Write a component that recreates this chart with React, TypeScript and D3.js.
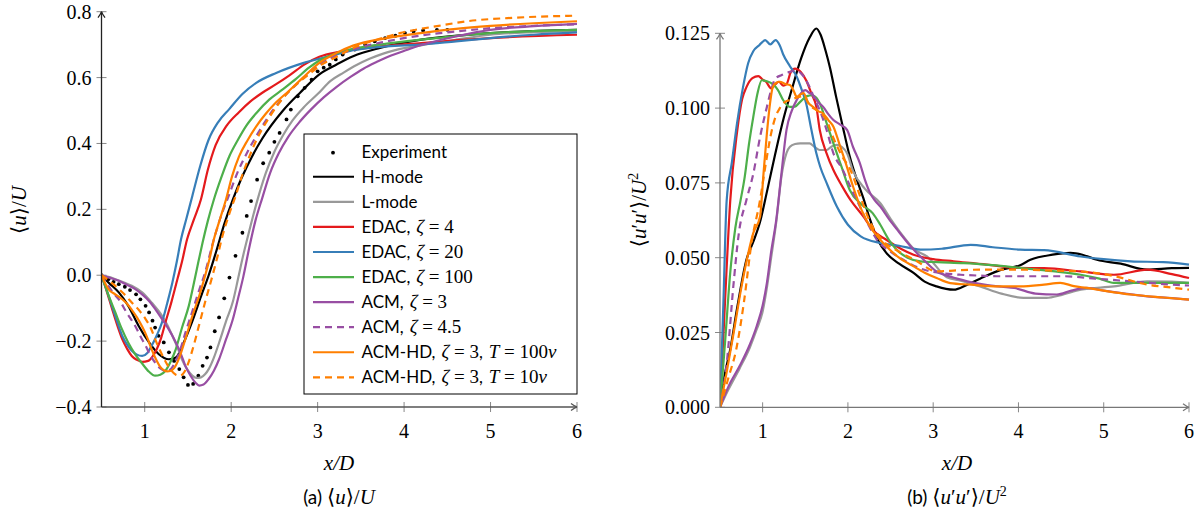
import React from 'react';
import * as d3 from 'd3';

type P = [number, number];

const xTicks = [1, 2, 3, 4, 5, 6];
const uTicks = [-0.4, -0.2, 0, 0.2, 0.4, 0.6, 0.8];
const rTicks = [0, 0.025, 0.05, 0.075, 0.1, 0.125];

// ---------- (a) <u>/U ----------
const experimentU: P[] = [[0.5,0],[0.58,-0.012],[0.64,-0.02],[0.70,-0.027],[0.77,-0.035],[0.83,-0.045],[0.90,-0.058],[0.95,-0.073],[1.01,-0.093],[1.05,-0.113],[1.09,-0.138],[1.12,-0.159],[1.16,-0.184],[1.22,-0.204],[1.28,-0.234],[1.34,-0.26],[1.40,-0.285],[1.45,-0.31],[1.50,-0.333],[1.56,-0.33],[1.62,-0.305],[1.67,-0.275],[1.72,-0.25],[1.76,-0.219],[1.81,-0.17],[1.86,-0.128],[1.92,-0.07],[1.98,-0.007],[2.05,0.059],[2.13,0.129],[2.18,0.18],[2.23,0.225],[2.30,0.29],[2.37,0.34],[2.44,0.372],[2.50,0.405],[2.56,0.432],[2.64,0.473],[2.69,0.503],[2.77,0.543],[2.85,0.569],[2.93,0.594],[3.00,0.619],[3.07,0.63],[3.14,0.639],[3.21,0.655],[3.29,0.67],[3.43,0.685],[3.55,0.70],[3.66,0.71],[3.78,0.72],[3.90,0.727],[4.01,0.735],[4.11,0.74],[4.22,0.743],[4.38,0.745],[4.50,0.745]];
const hModeU: P[] = [[0.5,0],[0.58,-0.022],[0.70,-0.052],[0.81,-0.093],[0.93,-0.154],[1.05,-0.204],[1.16,-0.239],[1.28,-0.255],[1.36,-0.25],[1.45,-0.205],[1.55,-0.14],[1.65,-0.065],[1.74,0.0],[1.83,0.075],[1.92,0.155],[2.02,0.23],[2.12,0.295],[2.24,0.36],[2.36,0.415],[2.60,0.50],[2.80,0.555],[3.02,0.61],[3.22,0.64],[3.41,0.665],[3.72,0.69],[4.2,0.715],[5,0.735],[6,0.745]];
const lModeU: P[] = [[0.5,0],[0.58,-0.005],[0.66,-0.012],[0.76,-0.022],[0.85,-0.032],[0.97,-0.052],[1.08,-0.083],[1.20,-0.123],[1.26,-0.15],[1.32,-0.184],[1.38,-0.22],[1.43,-0.255],[1.49,-0.285],[1.55,-0.305],[1.60,-0.312],[1.65,-0.31],[1.70,-0.3],[1.74,-0.285],[1.80,-0.25],[1.86,-0.205],[1.94,-0.14],[2.02,-0.08],[2.08,-0.01],[2.13,0.05],[2.20,0.125],[2.30,0.225],[2.40,0.31],[2.50,0.375],[2.60,0.425],[2.71,0.47],[2.84,0.51],[3.0,0.55],[3.15,0.59],[3.3,0.615],[3.45,0.638],[3.6,0.657],[3.75,0.672],[3.92,0.685],[4.19,0.698],[4.6,0.715],[5,0.73],[5.5,0.738],[6,0.742]];
const edac4U: P[] = [[0.5,0],[0.56,-0.048],[0.62,-0.10],[0.68,-0.15],[0.74,-0.194],[0.80,-0.225],[0.85,-0.245],[0.91,-0.257],[0.97,-0.263],[1.04,-0.26],[1.09,-0.247],[1.14,-0.224],[1.19,-0.19],[1.24,-0.143],[1.31,-0.08],[1.38,-0.01],[1.43,0.04],[1.49,0.109],[1.57,0.17],[1.65,0.23],[1.73,0.32],[1.82,0.395],[1.95,0.455],[2.09,0.495],[2.22,0.527],[2.36,0.554],[2.52,0.58],[2.67,0.606],[2.85,0.64],[3.02,0.663],[3.25,0.678],[3.5,0.688],[4.2,0.705],[5,0.72],[6,0.73]];
const edac20U: P[] = [[0.5,0],[0.56,-0.045],[0.62,-0.093],[0.68,-0.14],[0.74,-0.184],[0.80,-0.212],[0.85,-0.229],[0.91,-0.241],[0.97,-0.245],[1.03,-0.236],[1.08,-0.214],[1.14,-0.182],[1.20,-0.143],[1.26,-0.085],[1.32,-0.022],[1.37,0.04],[1.42,0.109],[1.48,0.17],[1.55,0.24],[1.64,0.33],[1.74,0.412],[1.85,0.465],[1.98,0.505],[2.13,0.55],[2.29,0.584],[2.52,0.614],[2.83,0.644],[3.14,0.665],[3.41,0.683],[3.80,0.695],[4.19,0.70],[4.6,0.71],[5,0.72],[5.5,0.73],[6,0.737]];
const edac100U: P[] = [[0.5,0],[0.58,-0.06],[0.66,-0.113],[0.73,-0.16],[0.81,-0.205],[0.89,-0.24],[0.97,-0.268],[1.05,-0.293],[1.12,-0.305],[1.18,-0.302],[1.24,-0.29],[1.30,-0.262],[1.36,-0.224],[1.43,-0.16],[1.51,-0.093],[1.58,-0.01],[1.62,0.04],[1.67,0.1],[1.73,0.165],[1.80,0.23],[1.89,0.30],[1.98,0.362],[2.08,0.412],[2.17,0.452],[2.30,0.495],[2.44,0.533],[2.6,0.565],[2.75,0.596],[2.9,0.63],[3.02,0.652],[3.2,0.672],[3.41,0.687],[3.8,0.703],[4.19,0.715],[5,0.735],[6,0.745]];
const acm3U: P[] = [[0.5,0],[0.6,-0.008],[0.70,-0.017],[0.80,-0.03],[0.89,-0.042],[0.97,-0.058],[1.05,-0.078],[1.12,-0.102],[1.20,-0.133],[1.28,-0.165],[1.36,-0.204],[1.42,-0.24],[1.47,-0.275],[1.53,-0.305],[1.59,-0.327],[1.63,-0.335],[1.68,-0.332],[1.74,-0.315],[1.80,-0.29],[1.86,-0.255],[1.94,-0.195],[2.02,-0.133],[2.08,-0.07],[2.14,-0.005],[2.21,0.085],[2.28,0.165],[2.36,0.235],[2.45,0.31],[2.55,0.37],[2.66,0.42],[2.79,0.465],[2.93,0.505],[3.07,0.54],[3.22,0.572],[3.38,0.602],[3.53,0.627],[3.68,0.647],[3.85,0.667],[3.99,0.68],[4.19,0.698],[4.6,0.725],[5,0.745],[5.5,0.756],[6,0.763]];
const acm45U: P[] = [[0.5,0],[0.58,-0.032],[0.64,-0.055],[0.70,-0.073],[0.79,-0.113],[0.89,-0.154],[0.95,-0.185],[1.01,-0.214],[1.07,-0.245],[1.12,-0.265],[1.18,-0.283],[1.24,-0.29],[1.29,-0.287],[1.34,-0.27],[1.40,-0.235],[1.47,-0.175],[1.55,-0.11],[1.63,-0.045],[1.70,0.01],[1.78,0.09],[1.87,0.17],[1.97,0.24],[2.07,0.31],[2.2,0.38],[2.33,0.44],[2.48,0.5],[2.64,0.55],[2.8,0.59],[3.02,0.64],[3.2,0.665],[3.4,0.685],[3.8,0.71],[4.2,0.728],[4.6,0.74],[5,0.75],[5.5,0.757],[6,0.762]];
const acmHd100U: P[] = [[0.5,0],[0.58,-0.042],[0.66,-0.058],[0.74,-0.073],[0.80,-0.088],[0.85,-0.105],[0.91,-0.128],[0.97,-0.156],[1.03,-0.19],[1.08,-0.225],[1.13,-0.255],[1.18,-0.278],[1.22,-0.288],[1.26,-0.292],[1.30,-0.29],[1.34,-0.282],[1.40,-0.25],[1.47,-0.194],[1.55,-0.125],[1.63,-0.063],[1.70,0.0],[1.75,0.05],[1.80,0.109],[1.87,0.17],[1.94,0.23],[2.01,0.3],[2.09,0.36],[2.19,0.41],[2.29,0.452],[2.40,0.49],[2.52,0.525],[2.67,0.56],[2.83,0.60],[3.02,0.645],[3.22,0.675],[3.41,0.697],[3.80,0.72],[4.19,0.735],[4.6,0.748],[5,0.757],[5.5,0.765],[6,0.771]];
const acmHd10U: P[] = [[0.5,0],[0.58,-0.015],[0.64,-0.028],[0.70,-0.042],[0.78,-0.062],[0.85,-0.083],[0.93,-0.105],[1.01,-0.133],[1.07,-0.16],[1.12,-0.194],[1.18,-0.23],[1.24,-0.262],[1.30,-0.287],[1.36,-0.302],[1.41,-0.305],[1.46,-0.293],[1.51,-0.262],[1.57,-0.21],[1.63,-0.15],[1.70,-0.08],[1.78,-0.005],[1.84,0.055],[1.90,0.12],[1.97,0.18],[2.05,0.24],[2.13,0.305],[2.21,0.36],[2.30,0.415],[2.40,0.462],[2.52,0.51],[2.64,0.55],[2.78,0.585],[2.91,0.612],[3.05,0.64],[3.2,0.66],[3.41,0.69],[3.68,0.715],[3.95,0.735],[4.4,0.757],[4.73,0.771],[5.3,0.782],[6,0.788]];

// ---------- (b) <u'u'>/U^2 ----------
const hModeR: P[] = [[0.5,0],[0.55,0.01],[0.62,0.0193],[0.7,0.033],[0.81,0.0493],[0.9,0.056],[0.97,0.062],[1.05,0.072],[1.15,0.085],[1.25,0.097],[1.35,0.107],[1.45,0.1165],[1.55,0.1235],[1.63,0.1266],[1.68,0.1245],[1.74,0.119],[1.79,0.1135],[1.86,0.104],[1.94,0.0938],[2.02,0.084],[2.10,0.0765],[2.18,0.07],[2.26,0.0627],[2.35,0.056],[2.45,0.0516],[2.6,0.048],[2.77,0.0449],[2.9,0.042],[3.04,0.0404],[3.24,0.0393],[3.4,0.041],[3.55,0.043],[3.8,0.046],[4.02,0.0475],[4.14,0.0493],[4.4,0.051],[4.61,0.0516],[4.75,0.051],[4.92,0.0493],[5.2,0.048],[5.51,0.046],[5.8,0.0465],[6.0,0.0466]];
const lModeR: P[] = [[0.5,0],[0.6,0.006],[0.73,0.013],[0.85,0.02],[0.93,0.026],[1.0,0.032],[1.05,0.04],[1.1,0.05],[1.16,0.062],[1.22,0.077],[1.28,0.085],[1.32,0.0871],[1.38,0.088],[1.44,0.0882],[1.50,0.0882],[1.55,0.0882],[1.61,0.087],[1.67,0.086],[1.75,0.086],[1.81,0.0872],[1.87,0.0877],[1.93,0.087],[1.99,0.0849],[2.06,0.079],[2.2,0.073],[2.38,0.0682],[2.5,0.063],[2.65,0.0571],[2.77,0.053],[2.93,0.0504],[3.16,0.0435],[3.3,0.0425],[3.55,0.0404],[3.8,0.038],[4.06,0.0366],[4.33,0.0366],[4.5,0.0375],[4.73,0.0393],[5.12,0.0404],[5.51,0.0421],[5.8,0.042],[6.0,0.0416]];
const edac4R: P[] = [[0.5,0],[0.56,0.036],[0.62,0.069],[0.70,0.092],[0.76,0.103],[0.81,0.107],[0.88,0.110],[0.95,0.1107],[1.0,0.1095],[1.04,0.1088],[1.10,0.1066],[1.15,0.108],[1.19,0.1088],[1.24,0.1075],[1.28,0.108],[1.33,0.112],[1.38,0.1132],[1.45,0.112],[1.51,0.1093],[1.57,0.105],[1.63,0.1004],[1.67,0.0927],[1.75,0.0849],[1.83,0.0793],[1.93,0.074],[2.03,0.0693],[2.18,0.0638],[2.3,0.059],[2.45,0.056],[2.62,0.053],[2.77,0.051],[3.0,0.0495],[3.24,0.0488],[3.63,0.0477],[3.96,0.0466],[4.3,0.0465],[4.73,0.0454],[5.12,0.0443],[5.51,0.046],[5.8,0.0445],[6.0,0.0432]];
const edac20R: P[] = [[0.5,0],[0.54,0.035],[0.578,0.069],[0.64,0.082],[0.70,0.095],[0.77,0.107],[0.83,0.115],[0.89,0.119],[0.96,0.121],[1.03,0.1227],[1.09,0.1213],[1.15,0.1227],[1.20,0.121],[1.24,0.118],[1.32,0.114],[1.40,0.1105],[1.46,0.106],[1.51,0.1016],[1.57,0.093],[1.63,0.0849],[1.675,0.0804],[1.75,0.075],[1.87,0.0671],[2.0,0.061],[2.15,0.0571],[2.38,0.0549],[2.6,0.054],[2.85,0.0527],[3.1,0.053],[3.44,0.0543],[3.7,0.0535],[4.02,0.0527],[4.3,0.0525],[4.73,0.0504],[5.0,0.0495],[5.32,0.0488],[5.7,0.0485],[6.0,0.0477]];
const edac100R: P[] = [[0.5,0],[0.56,0.022],[0.62,0.045],[0.68,0.06],[0.74,0.069],[0.79,0.077],[0.84,0.088],[0.89,0.097],[0.94,0.105],[0.99,0.1093],[1.05,0.109],[1.12,0.108],[1.18,0.106],[1.24,0.1027],[1.32,0.1004],[1.38,0.1005],[1.44,0.1021],[1.52,0.104],[1.58,0.1043],[1.63,0.1035],[1.67,0.1016],[1.75,0.095],[1.83,0.0882],[1.93,0.08],[2.02,0.0727],[2.15,0.068],[2.29,0.0649],[2.38,0.061],[2.48,0.056],[2.57,0.0527],[2.7,0.050],[2.85,0.0488],[3.05,0.0485],[3.36,0.0482],[3.7,0.0475],[4.02,0.0466],[4.4,0.0455],[4.73,0.0443],[4.95,0.043],[5.12,0.0416],[5.5,0.0416],[6.0,0.0416]];
const acm3R: P[] = [[0.5,0],[0.6,0.007],[0.73,0.0138],[0.85,0.021],[0.93,0.0271],[1.0,0.034],[1.05,0.0416],[1.1,0.052],[1.16,0.0627],[1.22,0.078],[1.28,0.0927],[1.34,0.099],[1.40,0.1027],[1.45,0.105],[1.50,0.106],[1.55,0.105],[1.59,0.1043],[1.65,0.102],[1.71,0.1004],[1.77,0.098],[1.83,0.096],[1.91,0.0945],[1.99,0.0927],[2.06,0.087],[2.14,0.0816],[2.2,0.076],[2.26,0.0716],[2.32,0.069],[2.38,0.0671],[2.48,0.063],[2.58,0.0593],[2.77,0.0527],[2.9,0.049],[3.04,0.0454],[3.16,0.044],[3.28,0.043],[3.40,0.0421],[3.6,0.041],[3.8,0.0403],[3.95,0.0399],[4.2,0.038],[4.45,0.0377],[4.62,0.039],[4.80,0.0399],[5.0,0.039],[5.25,0.038],[5.51,0.0371],[5.8,0.0365],[6.0,0.036]];
const acm45R: P[] = [[0.5,0],[0.58,0.015],[0.66,0.0416],[0.72,0.058],[0.81,0.0693],[0.89,0.078],[0.97,0.0904],[1.05,0.1004],[1.10,0.106],[1.15,0.1099],[1.22,0.111],[1.32,0.1121],[1.38,0.1125],[1.45,0.1116],[1.55,0.1071],[1.61,0.103],[1.67,0.0993],[1.75,0.0927],[1.83,0.0849],[1.94,0.0793],[2.04,0.073],[2.14,0.0671],[2.24,0.061],[2.34,0.056],[2.5,0.052],[2.65,0.0493],[2.8,0.047],[2.97,0.0454],[3.08,0.0449],[3.32,0.0443],[3.55,0.044],[3.75,0.0438],[4.2,0.0438],[4.53,0.0438],[4.9,0.043],[5.32,0.0421],[5.7,0.0412],[6.0,0.0407]];
const acmHd100R: P[] = [[0.5,0],[0.58,0.012],[0.66,0.0249],[0.75,0.04],[0.82,0.05],[0.89,0.0582],[0.97,0.0638],[1.01,0.078],[1.05,0.0916],[1.08,0.1],[1.12,0.1071],[1.16,0.1085],[1.20,0.1088],[1.27,0.108],[1.32,0.1077],[1.36,0.106],[1.40,0.1038],[1.44,0.1045],[1.48,0.105],[1.53,0.102],[1.59,0.1004],[1.65,0.099],[1.71,0.0982],[1.77,0.096],[1.83,0.0938],[1.9,0.088],[1.97,0.082],[2.06,0.0738],[2.16,0.066],[2.26,0.0604],[2.35,0.057],[2.45,0.0538],[2.6,0.05],[2.77,0.0471],[2.9,0.045],[3.04,0.0432],[3.2,0.0415],[3.44,0.041],[3.75,0.0404],[4.02,0.0404],[4.3,0.041],[4.49,0.0416],[4.65,0.0405],[4.80,0.0399],[5.0,0.039],[5.32,0.0377],[5.7,0.0367],[6.0,0.036]];
const acmHd10R: P[] = [[0.5,0],[0.6,0.01],[0.69,0.0193],[0.78,0.035],[0.87,0.055],[0.97,0.0693],[1.04,0.082],[1.10,0.0916],[1.15,0.097],[1.20,0.0999],[1.26,0.102],[1.32,0.1027],[1.40,0.1035],[1.48,0.104],[1.55,0.101],[1.65,0.099],[1.75,0.096],[1.83,0.090],[1.93,0.084],[2.03,0.0793],[2.15,0.07],[2.26,0.062],[2.4,0.056],[2.6,0.052],[2.8,0.049],[3.04,0.0454],[3.3,0.0458],[3.55,0.046],[3.8,0.046],[4.02,0.046],[4.4,0.0457],[4.73,0.0454],[5.1,0.044],[5.51,0.041],[5.8,0.040],[6.0,0.0393]];

const seriesNames = ['H-mode', 'L-mode', 'EDAC', 'EDAC', 'EDAC', 'ACM', 'ACM', 'ACM-HD', 'ACM-HD'];
const seriesZeta = ['', '', '4', '20', '100', '3', '4.5', '3', '3'];
const seriesT = ['', '', '', '', '', '', '', '100', '10'];
const seriesColors = ['#000000', '#999999', '#e41a1c', '#377eb8', '#4daf4a', '#984ea3', '#984ea3', '#ff7f00', '#ff7f00'];
const seriesDashed = [false, false, false, false, false, false, true, false, true];
const seriesU = [hModeU, lModeU, edac4U, edac20U, edac100U, acm3U, acm45U, acmHd100U, acmHd10U];
const seriesR = [hModeR, lModeR, edac4R, edac20R, edac100R, acm3R, acm45R, acmHd100R, acmHd10R];

const SANS = 'Lato, "Open Sans", sans-serif';
const SERIF = '"Liberation Serif", "DejaVu Serif", serif';

const xL = d3.scaleLinear().domain([0.5, 6]).range([101.5, 577]);
const yL = d3.scaleLinear().domain([-0.4, 0.8]).range([407, 11.7]);
const xR = d3.scaleLinear().domain([0.5, 6]).range([720, 1189]);
const yR = d3.scaleLinear().domain([0, 0.125]).range([407.3, 33.3]);

function Arrow({ x, y, dir, color }: { x: number; y: number; dir: 'up' | 'right'; color: string }) {
  const d = dir === 'up'
    ? `M${x - 3.5},${y + 6} Q${x - 0.5},${y + 2} ${x},${y} Q${x + 0.5},${y + 2} ${x + 3.5},${y + 6}`
    : `M${x - 6},${y - 3.5} Q${x - 2},${y - 0.5} ${x},${y} Q${x - 2},${y + 0.5} ${x - 6},${y + 3.5}`;
  return <path d={d} fill="none" stroke={color} strokeWidth={1.3} />;
}

function Panel({ xs, ys, data, yTicks, yFmt, clipId, axisColor, yAxisColor, dots }: any) {
  const [x0, x1] = xs.range();
  const [y0, y1] = ys.range();
  const line = d3.line<P>().x(d => xs(d[0])).y(d => ys(d[1])).curve(d3.curveMonotoneX);
  return (
    <g>
      <defs>
        <clipPath id={clipId}>
          <rect x={x0} y={y1 - 12} width={x1 - x0 + 2} height={y0 - y1 + 12} />
        </clipPath>
      </defs>
      {xTicks.map(t => (
        <g key={'x' + t}>
          <line x1={xs(t)} x2={xs(t)} y1={y0 - 5} y2={y0 + 5} stroke="#888" strokeWidth={1} />
          <text x={xs(t)} y={y0 + 31} textAnchor="middle" fontFamily={SERIF} fontSize={20}>{t}</text>
        </g>
      ))}
      {yTicks.map((t: number) => (
        <g key={'y' + t}>
          <line x1={x0 - 5} x2={x0 + 5} y1={ys(t)} y2={ys(t)} stroke="#888" strokeWidth={1} />
          <text x={x0 - 10} y={ys(t) + 7} textAnchor="end" fontFamily={SERIF} fontSize={20}>{yFmt(t)}</text>
        </g>
      ))}
      <g clipPath={`url(#${clipId})`}>
        {dots && dots.map((d: P, i: number) => (
          <circle key={'d' + i} cx={xs(d[0])} cy={ys(d[1])} r={1.9} fill="#000" />
        ))}
        {data.map((s: P[], i: number) => (
          <path key={i} d={line(s) || ''} fill="none" stroke={seriesColors[i]} strokeWidth={2.2}
            strokeDasharray={seriesDashed[i] ? '7 5' : undefined} strokeLinejoin="round" />
        ))}
      </g>
      <line x1={x0} x2={x1} y1={y0} y2={y0} stroke={axisColor} strokeWidth={1.3} />
      <line x1={x0} x2={x0} y1={y0} y2={y1} stroke={yAxisColor} strokeWidth={1.3} />
      <Arrow x={x1} y={y0} dir="right" color={axisColor} />
      <Arrow x={x0} y={y1} dir="up" color={yAxisColor} />
    </g>
  );
}

function LegendLabel({ i, x, y }: { i: number; x: number; y: number }) {
  const name = seriesNames[i];
  const z = seriesZeta[i];
  const T = seriesT[i];
  return (
    <text x={x} y={y} fontSize={17} fontFamily={SANS}>
      <tspan>{name}{z ? ',' : ''}</tspan>
      {z && (
        <>
          <tspan dx={6} fontFamily={SERIF} fontStyle="italic" fontSize={19}>ζ</tspan>
          <tspan fontFamily={SERIF} fontSize={19}>{' = ' + z}</tspan>
        </>
      )}
      {T && (
        <>
          <tspan>,</tspan>
          <tspan dx={6} fontFamily={SERIF} fontStyle="italic" fontSize={19}>T</tspan>
          <tspan fontFamily={SERIF} fontSize={19}>{' = ' + T}</tspan>
          <tspan fontFamily={SERIF} fontStyle="italic" fontSize={19}>ν</tspan>
        </>
      )}
    </text>
  );
}

function Legend() {
  const bx = 304, by = 134, bw = 273, bh = 260;
  const row0 = 151.7, dy = 25.07;
  const lx0 = 313, lx1 = 354, tx = 361.5;
  return (
    <g>
      <rect x={bx} y={by} width={bw} height={bh} fill="#fff" stroke="#000" strokeWidth={1} />
      <circle cx={(lx0 + lx1) / 2 - 0.5} cy={row0 + 1} r={1.9} fill="#000" />
      <text x={tx} y={row0 + 6} fontSize={17} fontFamily={SANS}>Experiment</text>
      {seriesNames.map((_, i) => {
        const y = row0 + (i + 1) * dy;
        return (
          <g key={i}>
            <line x1={lx0} x2={lx1} y1={y} y2={y} stroke={seriesColors[i]} strokeWidth={2.2}
              strokeDasharray={seriesDashed[i] ? '7 5' : undefined} />
            <LegendLabel i={i} x={tx} y={y + 6} />
          </g>
        );
      })}
    </g>
  );
}

export default function App() {
  const fmtL = (t: number) => (t < 0 ? '−' : '') + d3.format('.1f')(Math.abs(t));
  const fmtR = (t: number) => d3.format('.3f')(t);
  const m = { fontFamily: SERIF, fontSize: 21 };
  return (
    <svg width={1203} height={518} style={{ position: 'absolute', left: 0, top: 0, background: '#fff' }}>
      <Panel xs={xL} ys={yL} data={seriesU} yTicks={uTicks} yFmt={fmtL} clipId="clipL"
        axisColor="#555" yAxisColor="#222" dots={experimentU} />
      <Legend />
      <Panel xs={xR} ys={yR} data={seriesR} yTicks={rTicks} yFmt={fmtR} clipId="clipR"
        axisColor="#777" yAxisColor="#777" dots={null} />

      <text x={339} y={470} textAnchor="middle" fontFamily={SERIF} fontSize={21} fontStyle="italic">x/D</text>
      <text x={957} y={470} textAnchor="middle" fontFamily={SERIF} fontSize={21} fontStyle="italic">x/D</text>
      <text transform="translate(26,210) rotate(-90)" textAnchor="middle" fontFamily={SERIF} fontSize={21}>
        <tspan>⟨</tspan><tspan fontStyle="italic">u</tspan><tspan>⟩/</tspan><tspan fontStyle="italic">U</tspan>
      </text>
      <text transform="translate(646,210) rotate(-90)" textAnchor="middle" fontFamily={SERIF} fontSize={21}>
        <tspan>⟨</tspan><tspan fontStyle="italic">u</tspan><tspan>′</tspan><tspan fontStyle="italic">u</tspan><tspan>′⟩/</tspan><tspan fontStyle="italic">U</tspan><tspan dy={-8} fontSize={14}>2</tspan>
      </text>

      <text x={339} y={504} textAnchor="middle">
        <tspan fontFamily={SANS} fontSize={19}>(a) </tspan>
        <tspan {...m}>⟨</tspan><tspan {...m} fontStyle="italic">u</tspan><tspan {...m}>⟩/</tspan><tspan {...m} fontStyle="italic">U</tspan>
      </text>
      <text x={957} y={504} textAnchor="middle">
        <tspan fontFamily={SANS} fontSize={19}>(b) </tspan>
        <tspan {...m}>⟨</tspan><tspan {...m} fontStyle="italic">u</tspan><tspan {...m}>′</tspan><tspan {...m} fontStyle="italic">u</tspan><tspan {...m}>′⟩/</tspan><tspan {...m} fontStyle="italic">U</tspan><tspan fontFamily={SERIF} fontSize={14} dy={-8}>2</tspan>
      </text>
    </svg>
  );
}
